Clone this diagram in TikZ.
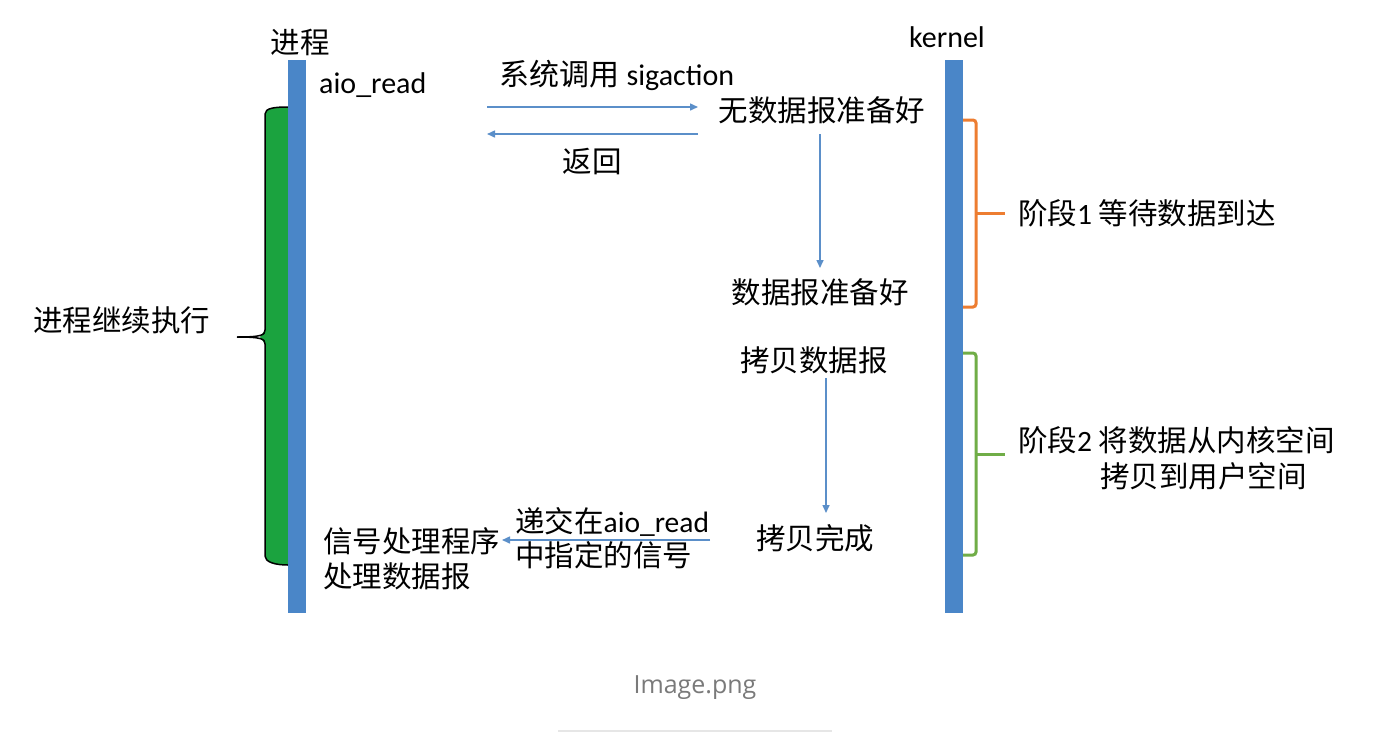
\documentclass[tikz,border=0pt]{standalone}
\usepackage{fontspec}
\setmainfont{Carlito}
\newfontfamily\cjk{Noto Sans CJK SC}
\newfontfamily\capfont{Open Sans}
\usetikzlibrary{arrows.meta}
\definecolor{barblue}{HTML}{4A86C8}
\definecolor{arrblue}{HTML}{5B8FC9}
\definecolor{orangeb}{HTML}{ED7D31}
\definecolor{greenb}{HTML}{70AD47}
\definecolor{greenfill}{HTML}{1BA33F}
\definecolor{captext}{HTML}{7A7A7A}
\definecolor{capline}{HTML}{E6E6E6}
\begin{document}
\begin{tikzpicture}[x=1pt,y=-1pt,
  txt/.style={inner sep=0pt,font=\fontsize{29.5}{35}\selectfont\cjk},
  lat/.style={inner sep=0pt,font=\fontsize{30}{35}\selectfont},
  arr/.style={draw=arrblue,line width=1.5pt,-{Triangle[length=8pt,width=7pt]}},
  bar/.style={fill=barblue,draw=none},
  brk/.style={line width=3pt,rounded corners=3pt}]
\useasboundingbox (0,0) rectangle (1398,740);
\fill[white] (0,0) rectangle (1398,740);
% green brace fill
\fill[greenfill] (288,107) .. controls (275,107) and (265,108) .. (265,114) -- (265,330) -- (260,337) -- (265,344) -- (265,556) .. controls (265,562) and (275,565) .. (288,565) -- cycle;
\draw[black,line width=1.5pt] (288,107) .. controls (275,107) and (265,108) .. (265,114) -- (265,330) .. controls (265,335) and (262,337) .. (237,337);
\draw[black,line width=1.5pt] (237,337) .. controls (262,337) and (265,339) .. (265,344) -- (265,556) .. controls (265,562) and (275,565) .. (288,565);
% bars
\fill[bar] (288,60) rectangle (306,613);
\fill[bar] (945,60) rectangle (963,613);
% labels
\node[txt] (proc) at (300,42) {进程};
\node[lat] (kern) at (947,37) {kernel};
\node[lat,anchor=west] (aio) at (319,85) {aio\_read};
\node[lat] (sys) at (617,75) {{\cjk 系统调用} sigaction};
\node[txt] (ret) at (592,162) {返回};
\node[txt] (nodata) at (822,110) {无数据报准备好};
\node[txt] (ready) at (820,292) {数据报准备好};
\node[txt] (copy) at (814,360) {拷贝数据报};
\node[txt] (done) at (815,538) {拷贝完成};
\node[txt,anchor=west] (deliv1) at (515,522) {递交在{\fontspec{Carlito}aio\_read}};
\node[txt,anchor=west] (deliv2) at (515,555) {中指定的信号};
\node[txt,anchor=west] (sig1) at (323,541) {信号处理程序};
\node[txt,anchor=west] (sig2) at (323,576) {处理数据报};
\node[txt,anchor=west] (cont) at (33,320) {进程继续执行};
\node[txt,anchor=west] (ph1) at (1018,213) {阶段{\fontspec{Carlito}1} 等待数据到达};
\node[txt,anchor=west] (ph2a) at (1018,440) {阶段{\fontspec{Carlito}2} 将数据从内核空间};
\node[txt,anchor=west] (ph2b) at (1100,476) {拷贝到用户空间};
% arrows
\coordinate (h1s) at (487,107); \coordinate (h1e) at (698,107);
\coordinate (h2s) at (698,134); \coordinate (h2e) at (487,134);
\coordinate (v1s) at (820,134); \coordinate (v1e) at (820,268);
\coordinate (v2s) at (826,378); \coordinate (v2e) at (826,513);
\coordinate (bs) at (710,540); \coordinate (be) at (502,540);
\draw[arr] (h1s) -- (h1e);
\draw[arr] (h2s) -- (h2e);
\draw[arr] (v1s) -- (v1e);
\draw[arr] (v2s) -- (v2e);
\draw[arr] (bs) -- (be);
% brackets
\draw[brk,orangeb] (963,120) -- (976,120) -- (976,307) -- (963,307);
\draw[orangeb,line width=3pt] (976,213) -- (1005,213);
\draw[brk,greenb] (963,353) -- (976,353) -- (976,555) -- (963,555);
\draw[greenb,line width=3pt] (976,454) -- (1005,454);
% caption
\node[inner sep=0pt,font=\fontsize{25}{30}\selectfont\capfont,text=captext] (cap) at (695,688) {Image.png};
\draw[capline,line width=2pt] (558,731) -- (832,731);
\end{tikzpicture}
\end{document}
